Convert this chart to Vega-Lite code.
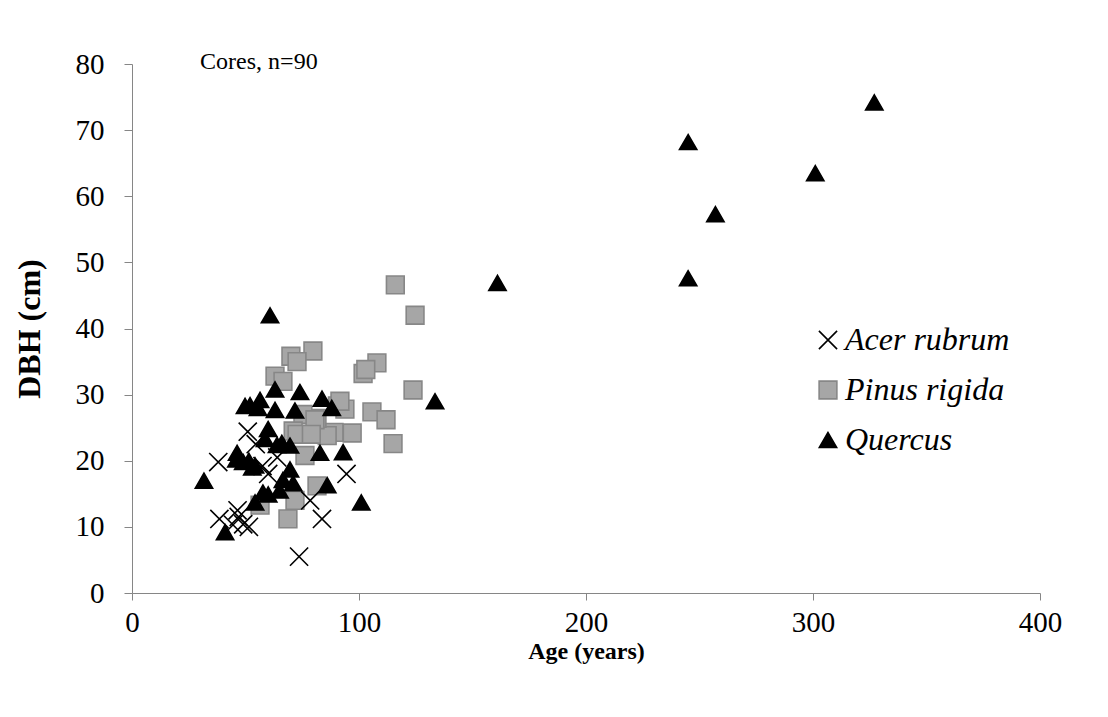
{
  "$schema": "https://vega.github.io/schema/vega-lite/v6.json",
  "width": 908,
  "height": 529,
  "autosize": {"type": "none"},
  "padding": {"left": 132, "top": 64, "right": 68, "bottom": 124},
  "background": "white",
  "config": {
    "view": {"stroke": null},
    "font": "Liberation Serif",
    "legend": {
      "title": null, "orient": "none", "legendX": 680, "legendY": 260,
      "labelFont": "Liberation Serif", "labelFontStyle": "italic", "labelFontSize": 32,
      "labelLimit": 400,
      "labelColor": "#000", "rowPadding": 18, "labelOffset": 1, "symbolStrokeWidth": 1.6
    }
  },
  "datasets": {
    "trees": [
      {"age": 116, "dbh": 46.6, "species": "Pinus rigida"},
      {"age": 124.7, "dbh": 42, "species": "Pinus rigida"},
      {"age": 79.7, "dbh": 36.6, "species": "Pinus rigida"},
      {"age": 70, "dbh": 35.8, "species": "Pinus rigida"},
      {"age": 72.7, "dbh": 35, "species": "Pinus rigida"},
      {"age": 63, "dbh": 32.8, "species": "Pinus rigida"},
      {"age": 66.5, "dbh": 32, "species": "Pinus rigida"},
      {"age": 107.9, "dbh": 34.8, "species": "Pinus rigida"},
      {"age": 101.8, "dbh": 33.2, "species": "Pinus rigida"},
      {"age": 103, "dbh": 33.8, "species": "Pinus rigida"},
      {"age": 123.8, "dbh": 30.7, "species": "Pinus rigida"},
      {"age": 105.7, "dbh": 27.4, "species": "Pinus rigida"},
      {"age": 111.9, "dbh": 26.2, "species": "Pinus rigida"},
      {"age": 115, "dbh": 22.6, "species": "Pinus rigida"},
      {"age": 90.5, "dbh": 28.3, "species": "Pinus rigida"},
      {"age": 93.8, "dbh": 27.8, "species": "Pinus rigida"},
      {"age": 97, "dbh": 24.2, "species": "Pinus rigida"},
      {"age": 89, "dbh": 24.3, "species": "Pinus rigida"},
      {"age": 86, "dbh": 23.8, "species": "Pinus rigida"},
      {"age": 81.5, "dbh": 26.4, "species": "Pinus rigida"},
      {"age": 75.3, "dbh": 27, "species": "Pinus rigida"},
      {"age": 71, "dbh": 24.5, "species": "Pinus rigida"},
      {"age": 76.2, "dbh": 20.8, "species": "Pinus rigida"},
      {"age": 81.5, "dbh": 16.2, "species": "Pinus rigida"},
      {"age": 71.8, "dbh": 14, "species": "Pinus rigida"},
      {"age": 68.7, "dbh": 11.2, "species": "Pinus rigida"},
      {"age": 56.4, "dbh": 13.3, "species": "Pinus rigida"},
      {"age": 72.7, "dbh": 24, "species": "Pinus rigida"},
      {"age": 91.6, "dbh": 29, "species": "Pinus rigida"},
      {"age": 80.6, "dbh": 26.2, "species": "Pinus rigida"},
      {"age": 79, "dbh": 24, "species": "Pinus rigida"},
      {"age": 38, "dbh": 19.8, "species": "Acer rubrum"},
      {"age": 38.5, "dbh": 11.2, "species": "Acer rubrum"},
      {"age": 44.5, "dbh": 10.3, "species": "Acer rubrum"},
      {"age": 46.5, "dbh": 12.5, "species": "Acer rubrum"},
      {"age": 47, "dbh": 11.5, "species": "Acer rubrum"},
      {"age": 49, "dbh": 10.4, "species": "Acer rubrum"},
      {"age": 51.5, "dbh": 10, "species": "Acer rubrum"},
      {"age": 51, "dbh": 24.4, "species": "Acer rubrum"},
      {"age": 54.5, "dbh": 22.5, "species": "Acer rubrum"},
      {"age": 57.5, "dbh": 19.2, "species": "Acer rubrum"},
      {"age": 60, "dbh": 18, "species": "Acer rubrum"},
      {"age": 64, "dbh": 20.5, "species": "Acer rubrum"},
      {"age": 78.5, "dbh": 14, "species": "Acer rubrum"},
      {"age": 83.7, "dbh": 11.2, "species": "Acer rubrum"},
      {"age": 94.5, "dbh": 18, "species": "Acer rubrum"},
      {"age": 73.6, "dbh": 5.5, "species": "Acer rubrum"},
      {"age": 327, "dbh": 74.2, "species": "Quercus"},
      {"age": 301, "dbh": 63.5, "species": "Quercus"},
      {"age": 245, "dbh": 68.2, "species": "Quercus"},
      {"age": 245, "dbh": 47.6, "species": "Quercus"},
      {"age": 257, "dbh": 57.3, "species": "Quercus"},
      {"age": 161, "dbh": 46.9, "species": "Quercus"},
      {"age": 133.5, "dbh": 29, "species": "Quercus"},
      {"age": 101, "dbh": 13.7, "species": "Quercus"},
      {"age": 86, "dbh": 16.3, "species": "Quercus"},
      {"age": 82.8, "dbh": 21.2, "species": "Quercus"},
      {"age": 93, "dbh": 21.3, "species": "Quercus"},
      {"age": 60.8, "dbh": 42, "species": "Quercus"},
      {"age": 74, "dbh": 30.4, "species": "Quercus"},
      {"age": 83.7, "dbh": 29.4, "species": "Quercus"},
      {"age": 88, "dbh": 28, "species": "Quercus"},
      {"age": 71.8, "dbh": 27.6, "species": "Quercus"},
      {"age": 63, "dbh": 30.8, "species": "Quercus"},
      {"age": 63, "dbh": 27.7, "species": "Quercus"},
      {"age": 56.4, "dbh": 29.2, "species": "Quercus"},
      {"age": 52, "dbh": 28.4, "species": "Quercus"},
      {"age": 49.8, "dbh": 28.3, "species": "Quercus"},
      {"age": 55.5, "dbh": 28, "species": "Quercus"},
      {"age": 69.6, "dbh": 22.3, "species": "Quercus"},
      {"age": 66, "dbh": 22.7, "species": "Quercus"},
      {"age": 58.6, "dbh": 23.3, "species": "Quercus"},
      {"age": 63.9, "dbh": 22.4, "species": "Quercus"},
      {"age": 60, "dbh": 24.8, "species": "Quercus"},
      {"age": 54.2, "dbh": 19.3, "species": "Quercus"},
      {"age": 69.6, "dbh": 18.7, "species": "Quercus"},
      {"age": 66.5, "dbh": 17.1, "species": "Quercus"},
      {"age": 71, "dbh": 16.6, "species": "Quercus"},
      {"age": 65, "dbh": 15.5, "species": "Quercus"},
      {"age": 60, "dbh": 14.9, "species": "Quercus"},
      {"age": 57.7, "dbh": 15.2, "species": "Quercus"},
      {"age": 54.2, "dbh": 13.7, "species": "Quercus"},
      {"age": 46.3, "dbh": 21.2, "species": "Quercus"},
      {"age": 46, "dbh": 20.2, "species": "Quercus"},
      {"age": 49, "dbh": 19.8, "species": "Quercus"},
      {"age": 51.5, "dbh": 20, "species": "Quercus"},
      {"age": 53, "dbh": 19, "species": "Quercus"},
      {"age": 31.7, "dbh": 17, "species": "Quercus"},
      {"age": 41, "dbh": 9.2, "species": "Quercus"}
    ],
    "note": [{"age": 30, "dbh": 80.3, "label": "Cores, n=90"}]
  },
  "layer": [
    {
      "data": {"name": "trees"},
      "mark": {"type": "point", "opacity": 1, "strokeWidth": 1.6},
      "encoding": {
        "x": {
          "field": "age", "type": "quantitative",
          "scale": {"domain": [0, 400], "nice": false},
          "axis": {
            "title": "Age (years)", "values": [0, 100, 200, 300, 400],
            "grid": false, "domainColor": "#868686", "tickColor": "#868686",
            "tickSize": 7, "labelPadding": 8, "labelFontSize": 29, "labelColor": "#000",
            "labelFont": "Liberation Serif", "titleFont": "Liberation Serif",
            "titleFontSize": 24, "titleFontWeight": "bold", "titleColor": "#000",
            "titlePadding": 2, "labelFlush": false
          }
        },
        "y": {
          "field": "dbh", "type": "quantitative",
          "scale": {"domain": [0, 80], "nice": false},
          "axis": {
            "title": "DBH (cm)", "values": [0, 10, 20, 30, 40, 50, 60, 70, 80],
            "grid": false, "domainColor": "#868686", "tickColor": "#868686",
            "tickSize": 8, "labelPadding": 20, "labelFontSize": 29, "labelColor": "#000",
            "labelFont": "Liberation Serif", "titleFont": "Liberation Serif",
            "titleFontSize": 32, "titleFontWeight": "bold", "titleColor": "#000",
            "titlePadding": 29, "labelFlush": false
          }
        },
        "shape": {
          "field": "species", "type": "nominal",
          "scale": {"domain": ["Acer rubrum", "Pinus rigida", "Quercus"], "range": ["M-1,-1L1,1M1,-1L-1,1", "square", "triangle-up"]},
          "legend": {"encode": {"symbols": {"update": {"size": {"value": 240}}}}}
        },
        "fill": {
          "field": "species", "type": "nominal",
          "scale": {"domain": ["Acer rubrum", "Pinus rigida", "Quercus"], "range": ["transparent", "#a6a6a6", "#000000"]},
          "legend": {"encode": {"symbols": {"update": {"size": {"value": 240}}}}}
        },
        "stroke": {
          "field": "species", "type": "nominal",
          "scale": {"domain": ["Acer rubrum", "Pinus rigida", "Quercus"], "range": ["#000000", "#878787", "#000000"]},
          "legend": {"encode": {"symbols": {"update": {"size": {"value": 240}}}}}
        },
        "size": {
          "field": "species", "type": "nominal",
          "scale": {"domain": ["Acer rubrum", "Pinus rigida", "Quercus"], "range": [330, 300, 430]},
          "legend": {"encode": {"symbols": {"update": {"size": {"value": 240}}}}}
        }
      }
    },
    {
      "data": {"name": "note"},
      "mark": {"type": "text", "align": "left", "baseline": "middle", "font": "Liberation Serif", "fontSize": 24, "color": "#000"},
      "encoding": {
        "x": {"field": "age", "type": "quantitative"},
        "y": {"field": "dbh", "type": "quantitative"},
        "text": {"field": "label"}
      }
    }
  ]
}
